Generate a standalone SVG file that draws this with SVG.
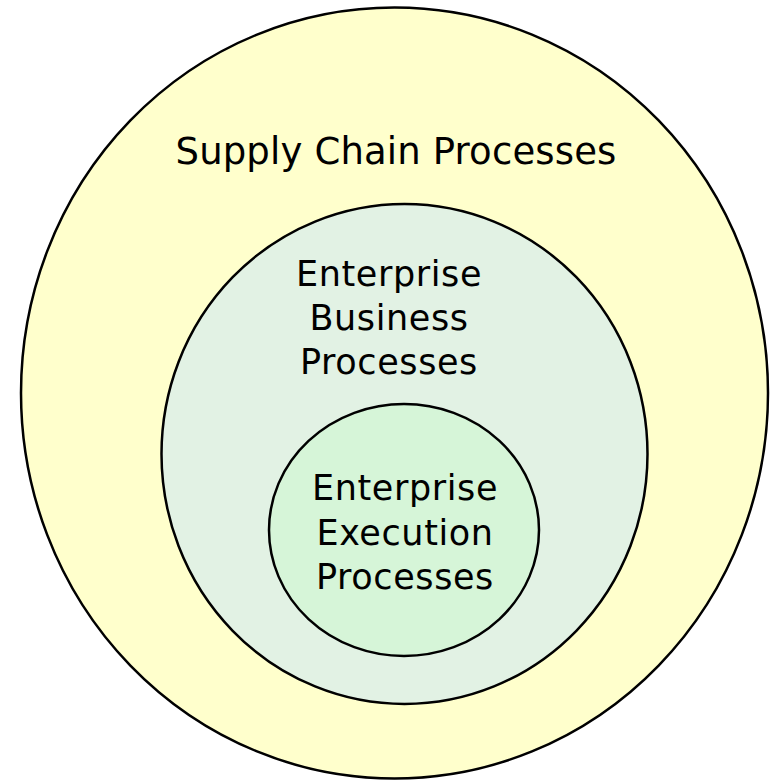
<svg xmlns="http://www.w3.org/2000/svg" width="777" height="780" viewBox="0 0 777 780">
<style>
.c{stroke:#000;stroke-width:2.5}
.t{font-family:"DejaVu Sans","Verdana",sans-serif;fill:#000;text-anchor:middle}
</style>
<rect width="777" height="780" fill="#fff"/>
<g id="supply">
<ellipse class="c" cx="394.5" cy="393" rx="373.5" ry="385.5" fill="#FFFFCC"/>
<text class="t" x="396" y="164" font-size="37" letter-spacing="0.15">Supply Chain Processes</text>
</g>
<g id="business">
<ellipse class="c" cx="404.5" cy="454" rx="243" ry="250" fill="#E2F2E4"/>
<text class="t" font-size="35" letter-spacing="0.6"><tspan x="389" y="286">Enterprise</tspan><tspan x="389" y="330">Business</tspan><tspan x="389" y="374">Processes</tspan></text>
</g>
<g id="execution">
<ellipse class="c" cx="404" cy="530" rx="135" ry="126" fill="#D6F5D8"/>
<text class="t" font-size="35" letter-spacing="0.6"><tspan x="405" y="500">Enterprise</tspan><tspan x="405" y="545">Execution</tspan><tspan x="405" y="589">Processes</tspan></text>
</g>
<g id="connectors"/>
</svg>
